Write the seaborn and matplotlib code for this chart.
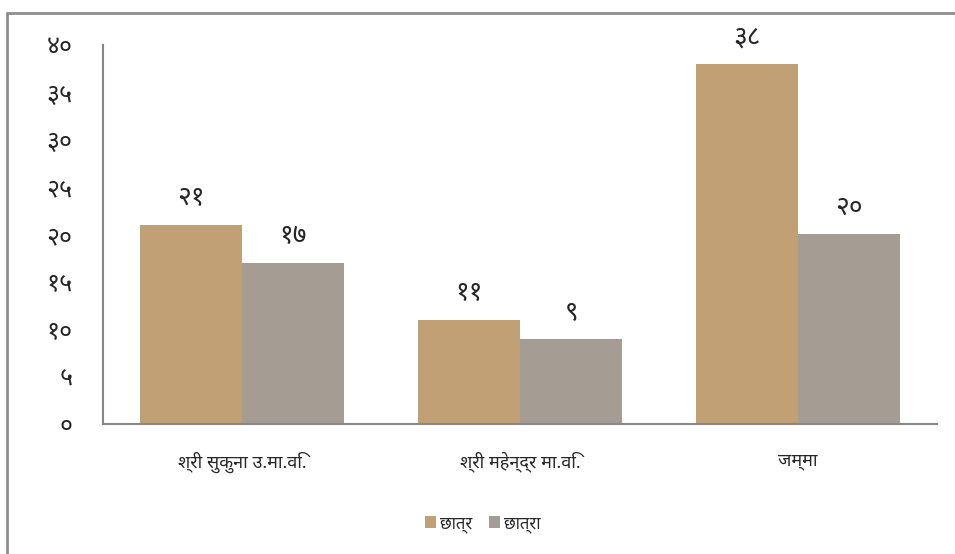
import matplotlib
matplotlib.use('Agg')
import matplotlib.pyplot as plt
from matplotlib import font_manager
from matplotlib.lines import Line2D
import pandas as pd
import seaborn as sns

schools = ['श्री सुकुना उ.मा.वि.', 'श्री महेन्द्र मा.वि.', 'जम्मा']
boys = [21, 11, 38]
girls = [17, 9, 20]
series_names = ['छात्र', 'छात्रा']
ticks = [0, 5, 10, 15, 20, 25, 30, 35, 40]

digits = '०१२३४५६७८९'


def nep(n):
    return ''.join(digits[int(c)] for c in str(n))


# pick a font that has devanagari glyphs
have = {f.name for f in font_manager.fontManager.ttflist}
fam = 'DejaVu Sans'
for name in ['Noto Sans Devanagari', 'Mukta', 'Hind', 'Annapurna SIL', 'Poppins', 'Anek Devanagari']:
    if name in have:
        fam = name
        break

df = pd.DataFrame({
    'school': schools * 2,
    'count': boys + girls,
    'kind': [series_names[0]] * 3 + [series_names[1]] * 3,
})

sns.set_style('white')
plt.rcParams['font.family'] = [fam, 'DejaVu Sans']

fig = plt.figure(figsize=(9.55, 5.54), dpi=100)
ax = fig.add_axes([0.108, 0.235, 0.873, 0.684])

sns.barplot(data=df, x='school', y='count', hue='kind', ax=ax,
            palette=['#c0a074', '#a59c94'], width=0.735, saturation=1,
            edgecolor='none')

for cont in ax.containers:
    ax.bar_label(cont, labels=[nep(int(v)) for v in cont.datavalues],
                 padding=9, fontsize=19)

ax.set_ylim(0, 40)
ax.set_yticks(ticks)
ax.set_yticklabels([nep(t) for t in ticks], fontsize=18)
ax.tick_params(axis='y', pad=22, length=0)
ax.tick_params(axis='x', pad=20, length=0, labelsize=13)
ax.set_xlabel('')
ax.set_ylabel('')
for s in ['top', 'right']:
    ax.spines[s].set_visible(False)
for s in ['left', 'bottom']:
    ax.spines[s].set_color('#878787')
    ax.spines[s].set_linewidth(1.5)

leg = ax.legend(loc='center', bbox_to_anchor=(0.455, -0.265), ncol=2, frameon=False,
                fontsize=12, handlelength=0.7, handleheight=0.7, handletextpad=0.2,
                columnspacing=1.0)

# outer chart frame (only left and top edges show)
fig.add_artist(Line2D([0.0075, 0.0075], [0, 0.977], color='#8e8e8e', lw=2))
fig.add_artist(Line2D([0.0075, 1.0], [0.977, 0.977], color='#8e8e8e', lw=2))

fig.savefig('out.png', dpi=100)
